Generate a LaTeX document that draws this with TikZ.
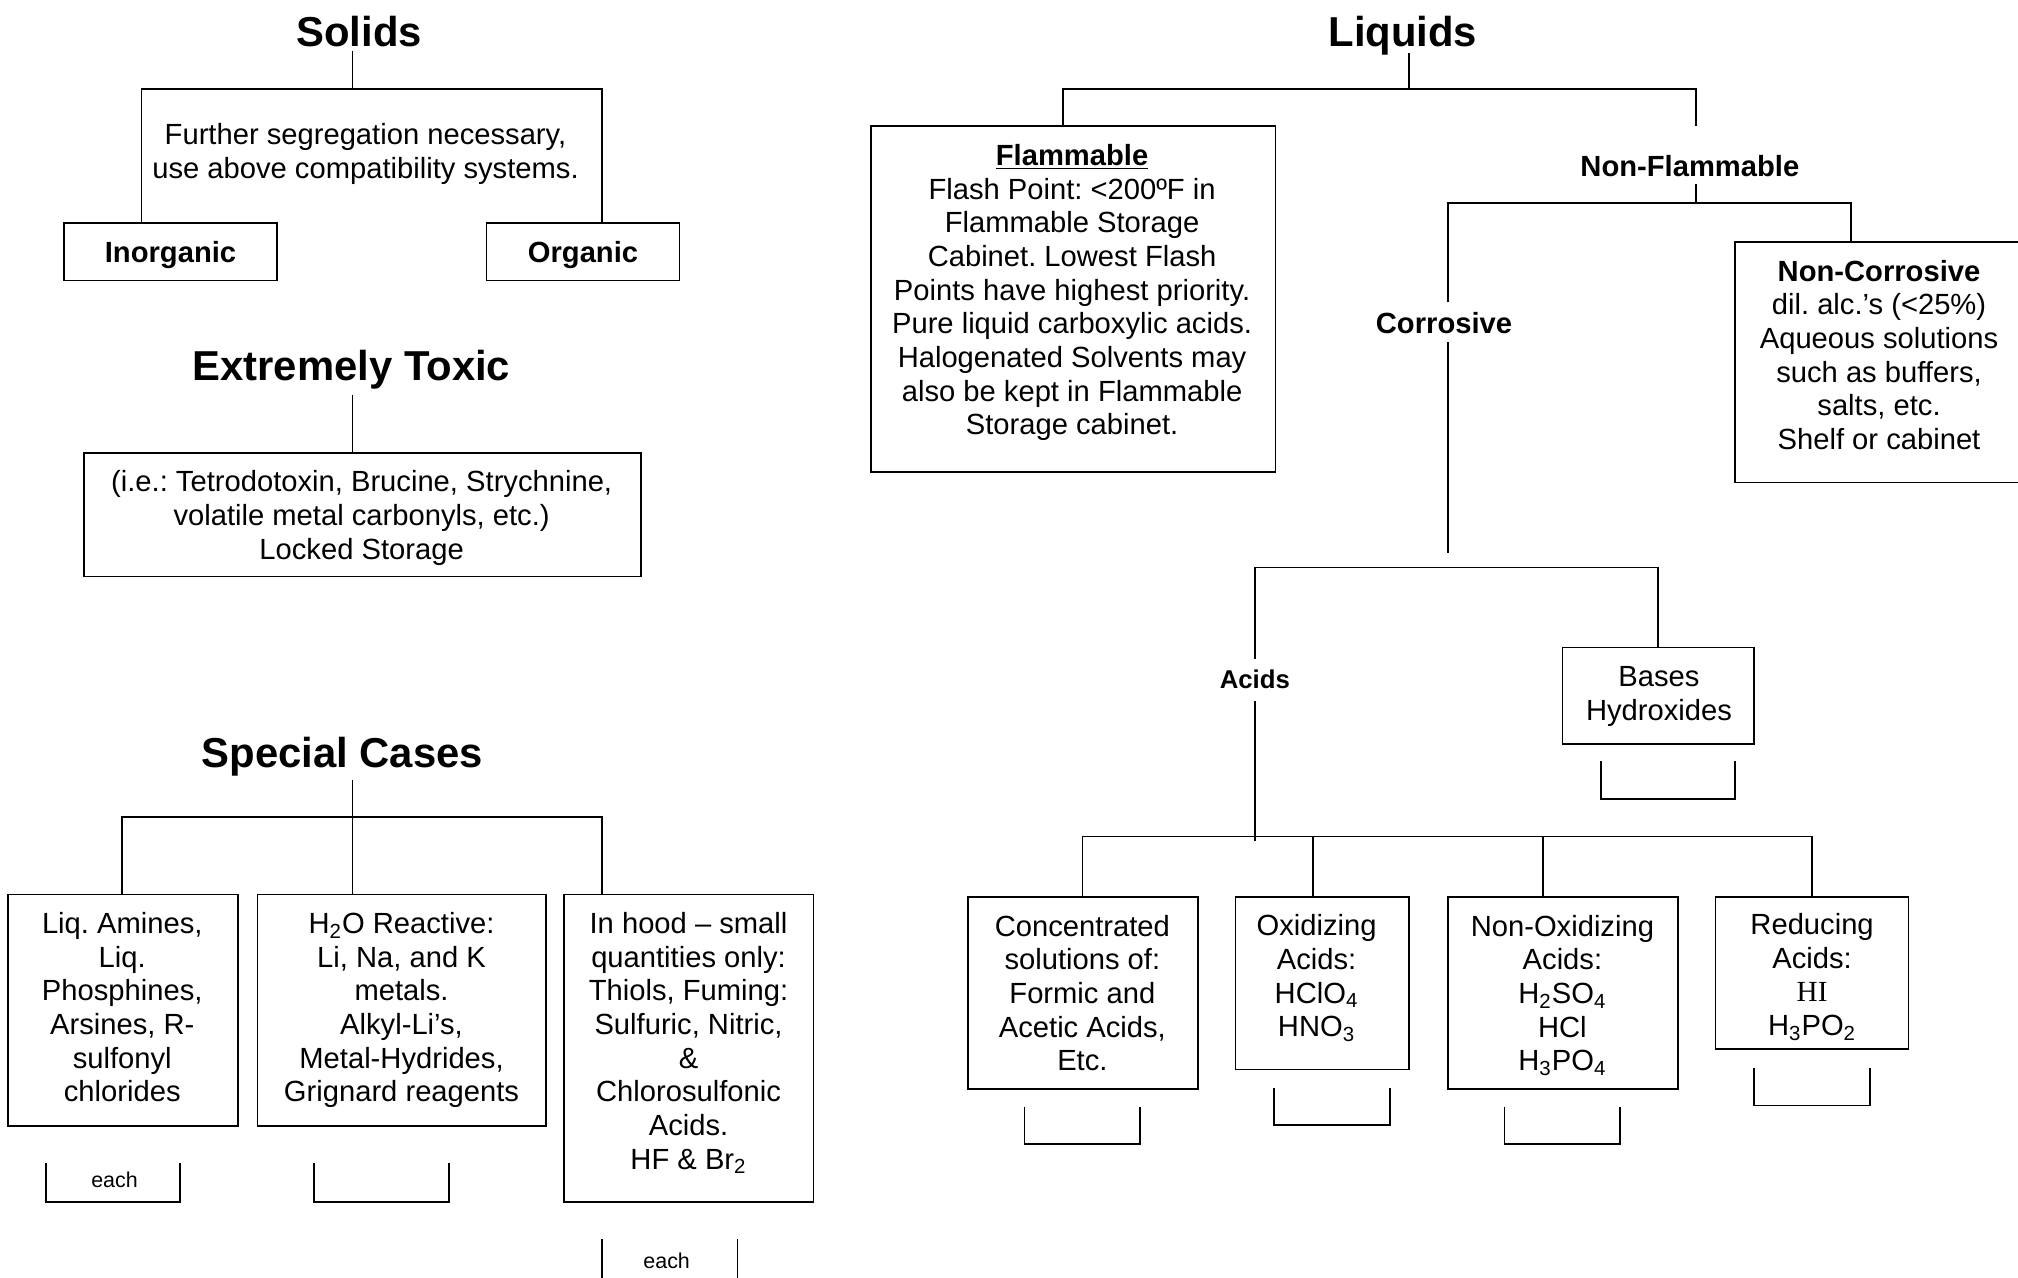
\documentclass[tikz,border=0pt]{standalone}
\usepackage{fontspec}
\setmainfont{Liberation Sans}
\newfontfamily\serifHI{Liberation Serif}
\begin{document}
\frenchspacing
\begin{tikzpicture}[x=0.6pt,y=-0.6pt,line width=0.8pt,
  txt/.style={align=center,inner sep=0pt,font=\fontsize{13.6pt}{15.7pt}\selectfont\frenchspacing,
    execute at begin node=\strut,execute at end node=\strut},
  bx/.style 2 args={draw,rectangle,inner sep=0pt,minimum width=#1*0.6pt,minimum height=#2*0.6pt},
  ttl/.style={inner sep=0pt,anchor=base,font=\fontsize{19.5pt}{22pt}\selectfont\bfseries},
  lbl/.style={inner sep=0pt,font=\fontsize{13.6pt}{15.6pt}\selectfont\bfseries},
  albl/.style={inner sep=0pt,font=\fontsize{12pt}{14pt}\selectfont\bfseries},
  small/.style={inner sep=0pt,font=\fontsize{10pt}{12pt}\selectfont},
  brk/.style={line width=0.8pt}]
\useasboundingbox (0,0) rectangle (1568,993);

% ---------------- Solids ----------------
\node[ttl] (solids) at (279,36) {Solids};
\coordinate (sa) at (274,40);
\coordinate (sj) at (274,69);
\node[txt] (seg) at (284,121) {Further segregation necessary,\\use above compatibility systems.};
\node[bx={165}{45},lbl,text depth=0pt] (inorg) at (132.5,195.5) {Inorganic};
\node[bx={150}{45},lbl,text depth=0pt] (org) at (453,195.5) {Organic};
\draw (sa) -- (sj);
\draw (inorg.north -| 110,0) |- (sj) -| (org.north -| 468,0);

% ---------------- Extremely Toxic ----------------
\node[ttl] (tox) at (273,296) {Extremely Toxic};
\coordinate (ta) at (274,307);
\node[bx={433}{96}] (toxbox) at (281.5,400) {};
\node[txt] (toxtxt) at (281,404) {(i.e.: Tetrodotoxin, Brucine, Strychnine,\\volatile metal carbonyls, etc.)\\Locked Storage};
\draw (ta) -- (toxbox.north -| ta);

% ---------------- Special Cases ----------------
\node[ttl] (spec) at (266,596) {Special Cases};
\coordinate (spa) at (274,606);
\coordinate (spj) at (274,635);
\node[bx={179}{180}] (sc1) at (95.5,785) {};
\node[txt] (sc1t) at (95,786.5) {Liq. Amines,\\Liq.\\Phosphines,\\Arsines, R-\\sulfonyl\\chlorides};
\node[bx={224}{180}] (sc2) at (312,785) {};
\node[txt] (sc2t) at (312,786.5) {H\textsubscript{2}O Reactive:\\Li, Na, and K\\metals.\\Alkyl-Li’s,\\Metal-Hydrides,\\Grignard reagents};
\node[bx={194}{239}] (sc3) at (535,814.5) {};
\node[txt] (sc3t) at (535,812.5) {In hood – small\\quantities only:\\Thiols, Fuming:\\Sulfuric, Nitric,\\\&\\Chlorosulfonic\\Acids.\\HF \& Br\textsubscript{2}};
\draw (spa) -- (sc2.north -| spa);
\draw (sc1.north -| 95,0) |- (spj) -| (sc3.north -| 468,0);
% brackets
\draw[brk] (36,904) |- (140,934) -- (140,904);
\node[small] (each1) at (89,917) {each};
\draw[brk] (244,904) |- (349,934) -- (349,904);
\draw[brk] (468,963) -- (468,1000);
\draw[brk] (573,963) -- (573,1000);
\node[small] (each2) at (518,980) {each};

% ---------------- Liquids ----------------
\node[ttl] (liq) at (1090,36) {Liquids};
\coordinate (la) at (1095,41);
\coordinate (lj) at (1095,69);
\draw (la) -- (lj);
\node[bx={314}{269}] (flam) at (834,232.5) {};
\node[txt] (flamt) at (833,229) {\textbf{\underline{Flammable}}\\Flash Point: <200ºF in\\Flammable Storage\\Cabinet. Lowest Flash\\Points have highest priority.\\Pure liquid carboxylic acids.\\Halogenated Solvents may\\also be kept in Flammable\\Storage cabinet.};
\coordinate (nfa) at (1318,98);
\node[lbl] (nonflam) at (1313,129) {Non-Flammable};
\draw (flam.north -| 826,0) |- (lj) -| (nfa);
\coordinate (nfb) at (1318,143);
\coordinate (nfj) at (1318,158);
\draw (nfb) -- (nfj);
\node[bx={227}{187}] (noncorr) at (1461.5,281.5) {};
\node[txt] (noncorrt) at (1460,279.5) {\textbf{Non-Corrosive}\\dil. alc.’s (<25\%)\\Aqueous solutions\\such as buffers,\\salts, etc.\\Shelf or cabinet};
\coordinate (ca) at (1125,235);
\node[lbl] (corr) at (1122,251) {Corrosive};
\draw (ca) |- (nfj) -| (noncorr.north -| 1438,0);
\coordinate (cb) at (1125,266);
\coordinate (cc) at (1125,430);
\draw (cb) -- (cc);
\coordinate (cj) at (1125,441);
\coordinate (aa) at (975,512);
\node[bx={149}{75}] (bases) at (1288.5,540.5) {};
\node[txt] (basest) at (1289,543) {Bases\\Hydroxides};
\draw (aa) |- (cj) -| (bases.north);
\node[albl] (acids) at (975,528) {Acids};
\coordinate (ab) at (975,545);
\coordinate (aj) at (975,650);
\draw (ab) -- ([yshift=-2]aj);
\draw[brk] (1244,591) |- (1348,621) -- (1348,591);

\node[bx={179}{149}] (conc) at (841.5,771.5) {};
\node[txt] (conct) at (841,775.5) {Concentrated\\solutions of:\\Formic and\\Acetic Acids,\\Etc.};
\node[bx={135}{134}] (oxid) at (1027.5,764) {};
\node[txt] (oxidt) at (1023,762) {Oxidizing\\Acids:\\HClO\textsubscript{4}\\HNO\textsubscript{3}};
\node[bx={179}{149}] (nonox) at (1214.5,771.5) {};
\node[txt] (nonoxt) at (1214,775.5) {Non-Oxidizing\\Acids:\\H\textsubscript{2}SO\textsubscript{4}\\HCl\\H\textsubscript{3}PO\textsubscript{4}};
\node[bx={150}{118}] (red) at (1408,756) {};
\node[txt] (redt) at (1408,761) {Reducing\\Acids:\\{\serifHI HI}\\H\textsubscript{3}PO\textsubscript{2}};
\draw (conc.north -| 841,0) |- (aj) -| (red.north -| 1408,0);
\draw (oxid.north -| 1020,0) -- (aj -| 1020,0);
\draw (nonox.north -| 1199,0) -- (aj -| 1199,0);
% brackets
\draw[brk] (796,860) |- (886,889) -- (886,860);
\draw[brk] (990,845) |- (1080,874) -- (1080,845);
\draw[brk] (1169,860) |- (1259,889) -- (1259,860);
\draw[brk] (1363,830) |- (1453,859) -- (1453,830);
\end{tikzpicture}
\end{document}
